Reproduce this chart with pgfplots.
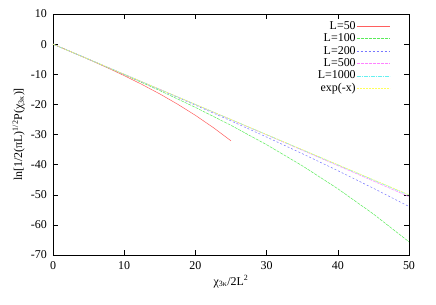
\documentclass[border=0pt]{standalone}
\usepackage{fontspec}
\setmainfont{Liberation Serif}
\usepackage{pgfplots}
\pgfplotsset{compat=1.18}
\begin{document}
\fontsize{12}{14}\selectfont
\begin{tikzpicture}
\useasboundingbox (-53bp,-50bp) rectangle (383bp,255bp);
\begin{axis}[
  scale only axis,
  width=356bp, height=241bp,
  xmin=0, xmax=50, ymin=-70, ymax=10,
  xtick={0,10,20,30,40,50},
  ytick={-70,-60,-50,-40,-30,-20,-10,0,10},
  tick align=inside,
  major tick length=5bp,
  minor tick num=0,
  axis line style={black, line width=0.6pt},
  tick style={black, line width=0.5pt},
  /pgf/number format/assume math mode=true,
  ticklabel style={font=\fontsize{12}{14}\selectfont},
  xticklabel style={yshift=-2bp},
  yticklabel style={xshift=-2bp},
  xlabel={χ\textsubscript{3κ}/2L\textsuperscript{2}},
  ylabel={ln[1/2(πL)\textsuperscript{1/2}P(χ\textsubscript{3κ})]},
  label style={font=\fontsize{12}{14}\selectfont},
  xlabel style={yshift=2bp},
  ylabel style={yshift=-2bp},
  legend plot pos=right,
  legend cell align=right,
  legend style={draw=none, fill=none, at={(1,1)}, xshift=-16bp, yshift=-4bp, anchor=north east,
    row sep=0pt, font=\fontsize{12}{14}\selectfont,
    nodes={inner sep=0.6pt, text height=8.6pt, text depth=2.6pt}},
  legend image code/.code={\draw[#1] (0bp,0bp) -- (33bp,0bp);},
  every axis plot/.append style={line width=0.5pt},
]
\addplot[color={rgb,255:red,255;green,95;blue,95}, solid] coordinates {
(0,0) (2.5,-2.507) (5,-5.057) (7.5,-7.692) (10,-10.455) (12.5,-13.388) (15,-16.534) (17.5,-19.936) (20,-23.636) (22.5,-27.678) (25,-32.10)};
\addlegendentry{L=50}
\addplot[color={rgb,255:red,90;green,235;blue,90}, dash pattern=on 3bp off 1bp] coordinates {
(0,0) (5,-5.016) (10,-10.125) (15,-15.422) (20,-21.0) (25,-26.953) (30,-33.375) (35,-40.359) (40,-48.0) (45,-56.39) (50,-65.625)};
\addlegendentry{L=100}
\addplot[color={rgb,255:red,120;green,120;blue,255}, dash pattern=on 2bp off 2bp] coordinates {
(0,0) (5,-5.004) (10,-10.031) (15,-15.105) (20,-20.25) (25,-25.488) (30,-30.844) (35,-36.34) (40,-42.0) (45,-47.848) (50,-53.906)};
\addlegendentry{L=200}
\addplot[color={rgb,255:red,255;green,130;blue,255}, dash pattern=on 3bp off 1bp] coordinates {
(0,0) (5,-5.001) (10,-10.005) (15,-15.017) (20,-20.04) (25,-25.078) (30,-30.135) (35,-35.214) (40,-40.32) (45,-45.456) (50,-50.625)};
\addlegendentry{L=500}
\addplot[color={rgb,255:red,100;green,240;blue,240}, dash pattern=on 4bp off 1bp on 1bp off 1bp] coordinates {
(0,0) (5,-5.0) (10,-10.001) (15,-15.004) (20,-20.01) (25,-25.02) (30,-30.034) (35,-35.054) (40,-40.08) (45,-45.114) (50,-50.156)};
\addlegendentry{L=1000}
\addplot[color={rgb,255:red,255;green,255;blue,90}, dash pattern=on 2bp off 1bp] coordinates {
(0,0) (10,-10) (20,-20) (30,-30) (40,-40) (50,-50)};
\addlegendentry{exp(-x)}
\end{axis}
\end{tikzpicture}
\end{document}
